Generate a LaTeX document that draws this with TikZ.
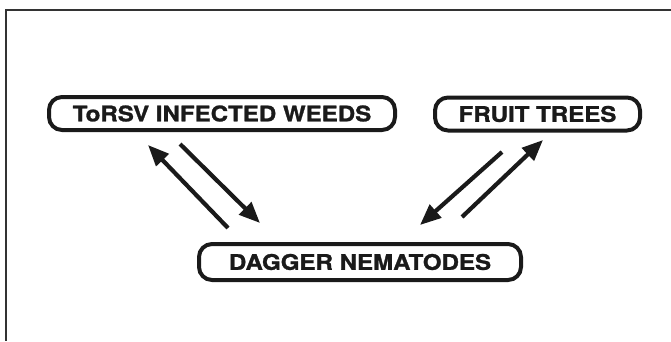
\documentclass[tikz,border=0pt]{standalone}
\usepackage{fontspec}
\setmainfont[BoldFeatures={FakeBold=1.2}]{TeX Gyre Heros}
\usetikzlibrary{arrows.meta}
\definecolor{ink}{HTML}{1A1A1A}
\definecolor{frame}{HTML}{333333}
\tikzset{
  pill/.style={draw=ink, line width=4pt, rounded corners=13pt, fill=white,
    inner sep=0pt, text=ink, font=\fontsize{21.5}{23}\selectfont\bfseries},
  flow/.style={draw=ink, line width=4.2pt, -{Triangle[length=21pt,width=17pt]}},
}
\begin{document}
\begin{tikzpicture}[x=1pt,y=-1pt]
\useasboundingbox (0,0) rectangle (671,341);
\draw[frame, line width=1.5pt] (671,10) -- (6,10) -- (6,341);

\node[pill, minimum width=346pt, minimum height=33pt] (weeds) at (222,113.5)
  {\scalebox{1.12}[1]{ToRSV INFECTED WEEDS}};
\node[pill, minimum width=205pt, minimum height=33pt] (fruit) at (537.5,114)
  {\scalebox{1.12}[1]{FRUIT TREES}};
\node[pill, minimum width=322pt, minimum height=36pt] (dagger) at (360,262)
  {\scalebox{1.12}[1]{DAGGER NEMATODES}};

\coordinate (a1) at (228,228);
\coordinate (a2) at (148,145);
\coordinate (b1) at (180,144);
\coordinate (b2) at (260,223);
\coordinate (c1) at (502,152);
\coordinate (c2) at (420,225);
\coordinate (d1) at (462,217);
\coordinate (d2) at (543,140);

\draw[flow] (a1) -- (a2);
\draw[flow] (b1) -- (b2);
\draw[flow] (c1) -- (c2);
\draw[flow] (d1) -- (d2);
\end{tikzpicture}
\end{document}
